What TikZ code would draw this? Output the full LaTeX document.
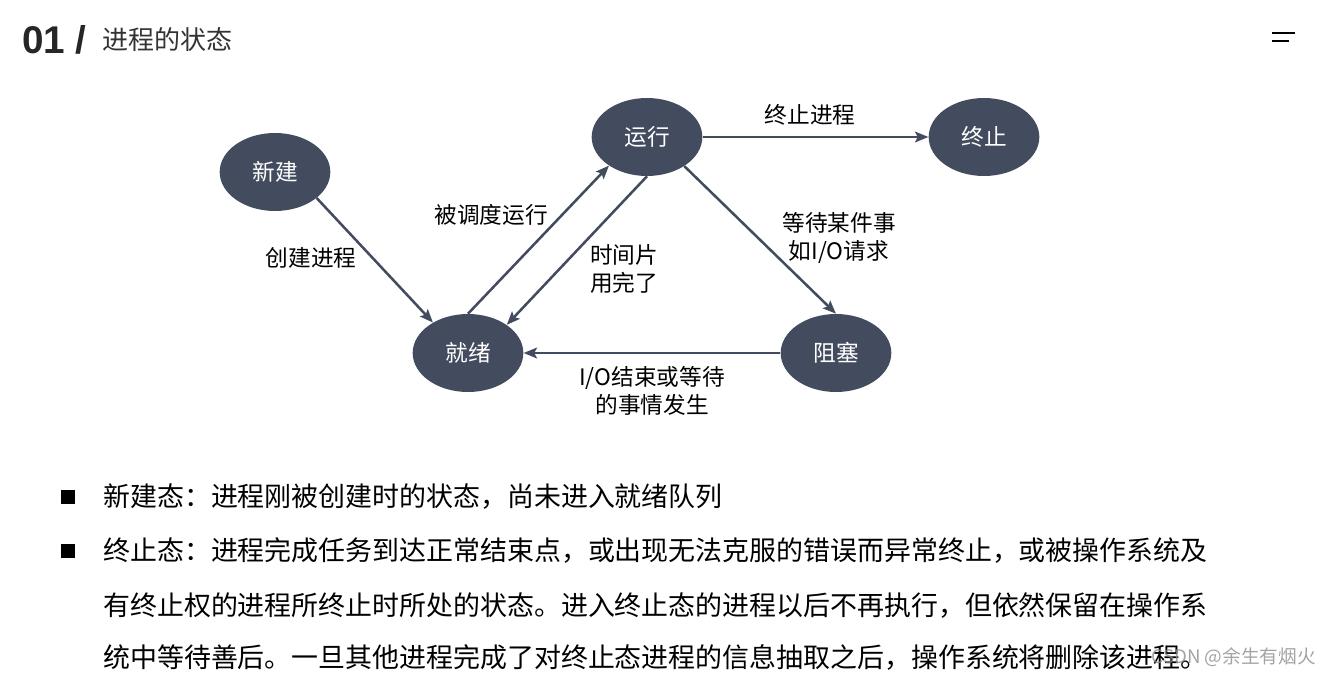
\documentclass[tikz,border=0pt]{standalone}
\usepackage{fontspec}
\setmainfont{Noto Sans CJK SC}
\newfontfamily\numfont{Liberation Sans}
\usetikzlibrary{shapes.geometric, arrows.meta}
\definecolor{statefill}{HTML}{434C5E}
\definecolor{titlegray}{HTML}{333333}

\begin{document}
\begin{tikzpicture}[x=0.75pt, y=-0.75pt,
    state/.style={ellipse, fill=statefill, text=white, minimum width=83pt, minimum height=58.5pt,
      inner sep=0pt, font=\fontsize{17pt}{20pt}\selectfont},
    trans/.style={draw=statefill, line width=1.9pt, -{Stealth[length=10pt, width=8pt, inset=2pt]}},
    lbl/.style={font=\fontsize{17pt}{20.5pt}\selectfont, align=center, inner sep=0pt},
    body/.style={anchor=west, inner sep=0pt, font=\fontsize{20.2pt}{24pt}\selectfont}]
    \useasboundingbox (0,0) rectangle (1332,677);
    % heading
    \node (num) at (22,40) [anchor=west, inner sep=0pt, text=black!85] {\numfont\bfseries\fontsize{29pt}{30pt}\selectfont 01 /};
    \node (head) at (102,40) [anchor=west, inner sep=0pt, text=titlegray] {\fontsize{19.5pt}{22pt}\selectfont 进程的状态};
    \coordinate (m1) at (1272,33);
    \coordinate (m2) at (1272,41.3);
    \draw[line width=1.3pt] (m1) -- ++(23,0);
    \draw[line width=1.3pt] (m2) -- ++(17,0);
    % states
    \node[state] (new) at (275,172) {新建};
    \node[state] (run) at (647,137) {运行};
    \node[state] (exit) at (984,137) {终止};
    \node[state] (ready) at (468,353) {就绪};
    \node[state] (block) at (836,353) {阻塞};
    \draw[trans] (new.-32) -- (ready.139);
    \draw[trans] (ready.90) -- (run.-143);
    \draw[trans] (run.-90) -- (ready.36);
    \draw[trans] (run.east) -- (exit.west);
    \draw[trans] (run.-38) -- (block.north);
    \draw[trans] (block.west) -- (ready.east);
    \node[lbl] (l1) at (810,115) {终止进程};
    \node[lbl] (l2) at (311,258) {创建进程};
    \node[lbl] (l3) at (491,215) {被调度运行};
    \node[lbl, align=left, anchor=west] (l4) at (590,269) {时间片\\用完了};
    \node[lbl] (l5) at (839,238) {等待某件事\\如I/O请求};
    \node[lbl] (l6) at (652,391) {I/O结束或等待\\的事情发生};
    % text
    \node[fill=black, minimum size=10.5pt, inner sep=0pt] (b1) at (68,497) {};
    \node[fill=black, minimum size=10.5pt, inner sep=0pt] (b2) at (68,551) {};
    \node[body] (t1) at (103,497) {新建态：进程刚被创建时的状态，尚未进入就绪队列};
    \node[body] (t2) at (103,551) {终止态：进程完成任务到达正常结束点，或出现无法克服的错误而异常终止，或被操作系统及};
    \node[body] (t3) at (103,606) {有终止权的进程所终止时所处的状态。进入终止态的进程以后不再执行，但依然保留在操作系};
    \node[body] (t4) at (103,657) {统中等待善后。一旦其他进程完成了对终止态进程的信息抽取之后，操作系统将删除该进程。};
    \node (mark) at (1316,657) [anchor=east, inner sep=0pt, text=black!45, opacity=0.8] {\fontsize{14pt}{16pt}\selectfont CSDN @余生有烟火};
\end{tikzpicture}
\end{document}
